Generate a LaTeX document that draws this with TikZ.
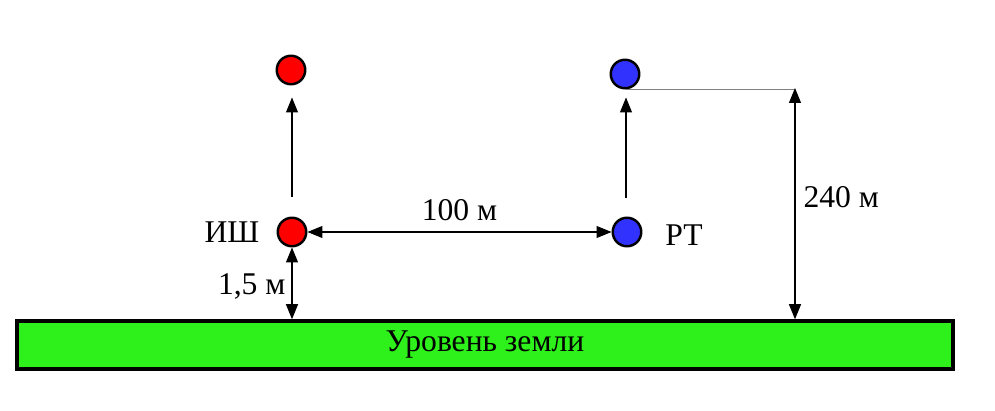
\documentclass[tikz,border=0pt]{standalone}
\usepackage{fontspec}
\setmainfont{Liberation Serif}
\usetikzlibrary{arrows.meta,positioning,calc}
\definecolor{groundgreen}{RGB}{46,240,26}
\definecolor{pointred}{RGB}{255,0,0}
\definecolor{pointblue}{RGB}{50,50,255}

\begin{document}
\begin{tikzpicture}[x=0.02cm,y=-0.02cm,
			txt/.style={font=\fontsize{18}{21}\selectfont,inner sep=0pt},
			point/.style={draw,circle,line width=1.4pt,minimum size=0.57cm,inner sep=0pt},
			dim/.style={line width=0.6pt,{Triangle[length=0.3cm,width=0.24cm]}-{Triangle[length=0.3cm,width=0.24cm]}},
			up/.style={line width=0.6pt,-{Triangle[length=0.3cm,width=0.24cm]}}
		]
		\useasboundingbox (0,0) rectangle (995,411);

		\node[draw,line width=2pt,fill=groundgreen,minimum width=18.72cm,minimum height=0.96cm,txt] (ground) at (485,345) {Уровень земли};

		\node[point,fill=pointred] (ish) at (292,232) {};
		\node[point,fill=pointred] (ishtop) at (291,70) {};
		\node[point,fill=pointblue] (rt) at (627,232) {};
		\node[point,fill=pointblue] (rttop) at (625,74) {};

		\node[txt] (ishlabel) at (232,232) {ИШ};
		\node[txt] (rtlabel) at (684,235) {РТ};

		\coordinate (ishfrom) at (292,197);
		\coordinate (rtfrom) at (626,198);
		\coordinate (top240) at (795,88);

		\draw[up,shorten >=0.24cm] (ishfrom) -- (ishfrom |- ishtop.south);
		\draw[up,shorten >=0.16cm] (rtfrom) -- (rtfrom |- rttop.south);

		%distances
		\draw[dim] (ish) -- node[txt,above=0.22cm] (d100) {100 м} (rt);
		\draw[dim] (ish) -- node[txt,left=0.12cm,pos=0.55] (d15) {1,5 м} (ish |- ground.north);
		\draw[line width=0.6pt,gray] (rttop.south) -- (rttop.south -| top240);
		\draw[dim] (top240) -- node[txt,right=0.16cm,pos=0.47] (d240) {240 м} (top240 |- ground.north);
	\end{tikzpicture}
\end{document}
